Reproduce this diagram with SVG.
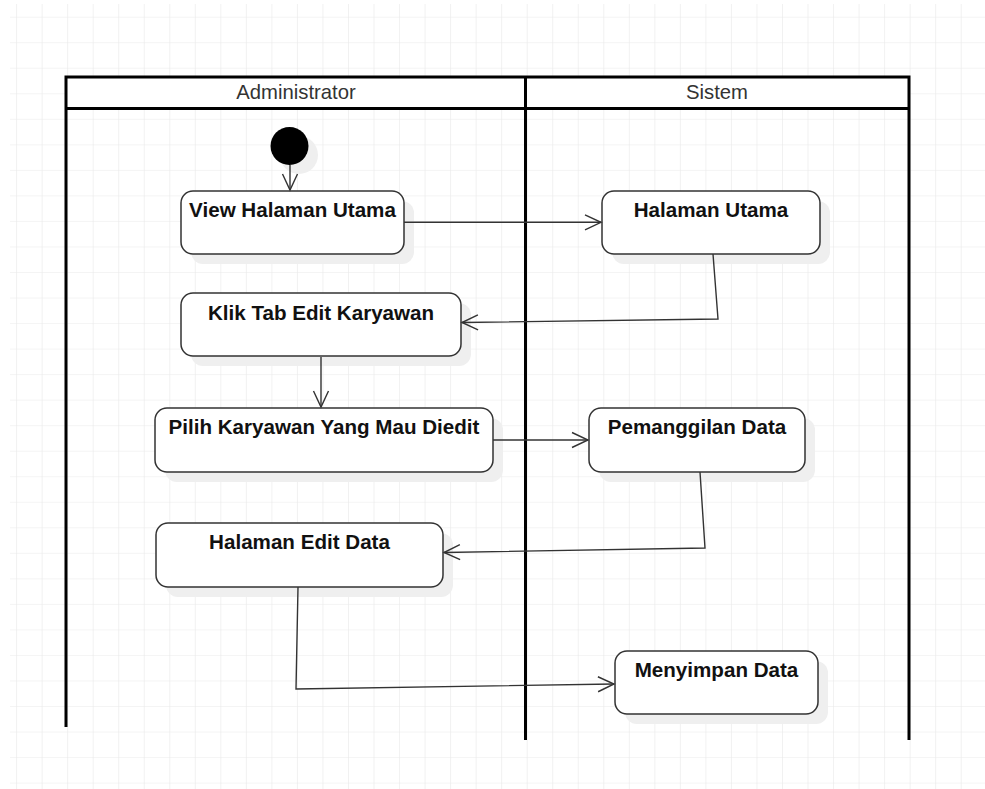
<svg xmlns="http://www.w3.org/2000/svg" width="985" height="789" viewBox="0 0 985 789">
<style>
.node rect.box{fill:#ffffff;stroke:#333333;stroke-width:1.5}
.node rect.shadow{fill:#efefef;stroke:none}
.label{font-family:"Liberation Sans",Arial,Helvetica,sans-serif;font-size:20.6px;font-weight:bold;fill:#111111;text-anchor:middle}
.lanetitle{font-family:"Liberation Sans",Arial,Helvetica,sans-serif;font-size:20.3px;fill:#333333;text-anchor:middle}
.lane{stroke:#000000;stroke-width:3;fill:none}
.edge{fill:none;stroke:#333333;stroke-width:1.4;marker-end:url(#arrow)}
</style>
<defs>
<pattern id="grid" patternUnits="userSpaceOnUse" x="16.1" y="16.7" width="25.53" height="25.53">
<path d="M0,0 H25.53 M0,0 V25.53" stroke="#e9e9e9" stroke-width="1.2" fill="none"/>
</pattern>
<marker id="arrow" markerUnits="userSpaceOnUse" markerWidth="20" markerHeight="20" viewBox="-18 -10 20 20" refX="0" refY="0" orient="auto">
<path d="M-16,-7.5 L0,0 L-16,7.5" fill="none" stroke="#333333" stroke-width="1.4"/>
</marker>
</defs>
<rect x="0" y="0" width="985" height="789" fill="#ffffff"/>
<rect x="10" y="4" width="975" height="785" fill="url(#grid)"/>

<g id="swimlanes">
<rect x="66" y="77" width="843" height="31.5" fill="#ffffff"/>
<path class="lane" d="M66,727 V77 H909 V740 M66,108.5 H909 M525.5,77 V740"/>
<text class="lanetitle" x="296" y="99">Administrator</text>
<text class="lanetitle" x="717" y="99">Sistem</text>
</g>

<g id="start">
<circle cx="299" cy="155" r="19" fill="#efefef"/>
<circle cx="289.5" cy="146" r="19" fill="#000000"/>
</g>

<g id="node-view-halaman-utama" class="node">
<rect class="shadow" x="191" y="201" width="223" height="63" rx="12"/>
<rect class="box" x="181" y="191" width="223" height="63" rx="12"/>
<text class="label" x="292.5" y="217">View Halaman Utama</text>
</g>

<g id="node-halaman-utama" class="node">
<rect class="shadow" x="612" y="201" width="218" height="63" rx="12"/>
<rect class="box" x="602" y="191" width="218" height="63" rx="12"/>
<text class="label" x="711" y="217">Halaman Utama</text>
</g>

<g id="node-klik-tab" class="node">
<rect class="shadow" x="191" y="303" width="280" height="63" rx="12"/>
<rect class="box" x="181" y="293" width="280" height="63" rx="12"/>
<text class="label" x="321" y="320">Klik Tab Edit Karyawan</text>
</g>

<g id="node-pilih-karyawan" class="node">
<rect class="shadow" x="165" y="418" width="338" height="64" rx="12"/>
<rect class="box" x="155" y="408" width="338" height="64" rx="12"/>
<text class="label" x="324" y="434">Pilih Karyawan Yang Mau Diedit</text>
</g>

<g id="node-pemanggilan-data" class="node">
<rect class="shadow" x="599" y="418" width="216" height="64" rx="12"/>
<rect class="box" x="589" y="408" width="216" height="64" rx="12"/>
<text class="label" x="697" y="434">Pemanggilan Data</text>
</g>

<g id="node-halaman-edit-data" class="node">
<rect class="shadow" x="166" y="533" width="287" height="64" rx="12"/>
<rect class="box" x="156" y="523" width="287" height="64" rx="12"/>
<text class="label" x="299.5" y="549">Halaman Edit Data</text>
</g>

<g id="node-menyimpan-data" class="node">
<rect class="shadow" x="625" y="661" width="203" height="63" rx="12"/>
<rect class="box" x="615" y="651" width="203" height="63" rx="12"/>
<text class="label" x="716.5" y="677">Menyimpan Data</text>
</g>

<g id="connectors">
<path class="edge" d="M290,165 V190"/>
<path class="edge" d="M404,222.3 H601"/>
<path class="edge" d="M713,254 L718,319 L462,322.5"/>
<path class="edge" d="M321,357 V407"/>
<path class="edge" d="M493,440 H588"/>
<path class="edge" d="M700,472 L705,548 L444,552.5"/>
<path class="edge" d="M298,587 L296,689 L614,684"/>
</g>
</svg>
